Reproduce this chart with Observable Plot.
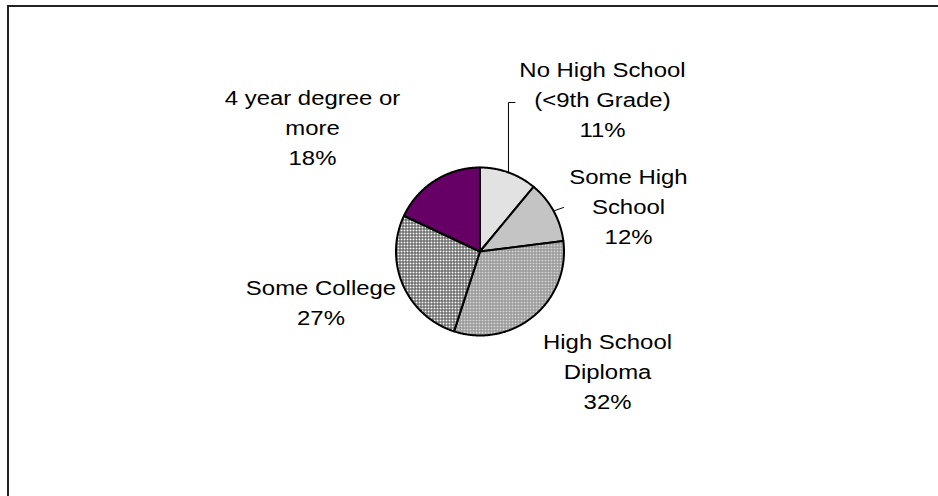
<!DOCTYPE html>
<html><head><meta charset="utf-8">
<script src="https://cdn.jsdelivr.net/npm/d3@7"></script>
<script src="https://cdn.jsdelivr.net/npm/@observablehq/plot@0.6"></script>
<style>
body{margin:0;background:#fff}
#wrap{position:relative;width:938px;height:496px;overflow:hidden}
#frame{position:absolute;left:7px;top:5px;width:1000px;height:1000px;border-top:2px solid #222;border-left:2px solid #222;pointer-events:none}
</style>
</head><body><div id="wrap"><div id="frame"></div></div>
<script>
// ---- data ----
const categories = ["No High School\n(<9th Grade)", "Some High\nSchool", "High School\nDiploma", "Some College", "4 year degree or\nmore"];
const shares = [11, 12, 32, 27, 18];
const fills = ["url(#pNoHS)", "url(#pSomeHS)", "url(#pHSD)", "url(#pColl)", "#660066"];

// ---- layout (pie radius = 1 unit) ----
const W = 938, H = 496, CX = 479.5, CY = 251, R = 84;
const labelPos = [[1.458, 1.83], [1.768, 0.565], [1.518, -1.40], [-1.893, -0.585], [-1.994, 1.50]];
const leaderEnds = [[[null, 1.774], [0.417, 1.774]], [[0.994, 0.524]], [], [], []];

const pie = d3.pie().sort(null).startAngle(0).endAngle(2 * Math.PI).value(d => d)(shares);
const slicePts = [];
pie.forEach((p, i) => {
  slicePts.push({k: categories[i], x: 0, y: 0});
  const n = Math.max(2, Math.ceil((p.endAngle - p.startAngle) / 0.01));
  for (let j = 0; j <= n; j++) {
    const a = p.startAngle + (p.endAngle - p.startAngle) * j / n;
    slicePts.push({k: categories[i], x: Math.sin(a), y: Math.cos(a)});
  }
});
const labels = categories.map((c, i) => ({text: c + "\n" + shares[i] + "%", x: labelPos[i][0], y: labelPos[i][1]}));
const leaders = [];
pie.forEach((p, i) => {
  if (!leaderEnds[i].length) return;
  const a = (p.startAngle + p.endAngle) / 2;
  let px = Math.sin(a), py = Math.cos(a);
  leaders.push({k: i, x: px, y: py});
  leaderEnds[i].forEach(([ex, ey]) => {
    px = ex == null ? px : ex; py = ey == null ? py : ey;
    leaders.push({k: i, x: px, y: py});
  });
});

const chart = Plot.plot({
  width: W, height: H, margin: 0,
  x: {domain: [-CX / R, (W - CX) / R], axis: null},
  y: {domain: [-(H - CY) / R, CY / R], axis: null},
  color: {type: "ordinal", domain: categories, range: fills},
  marks: [
    Plot.line(slicePts, {x: "x", y: "y", z: "k", fill: "k", stroke: "#000", strokeWidth: 2, curve: "linear-closed", strokeLinejoin: "round"}),
    Plot.line(leaders, {x: "x", y: "y", z: "k", stroke: "#000", strokeWidth: 1}),
    Plot.text(labels, {x: "x", y: "y", text: "text", fontSize: 21, lineHeight: 1.43, fill: "#000", fontFamily: "Liberation Sans, Arial, sans-serif", lineAnchor: "middle", textAnchor: "middle"})
  ]
});
chart.style.background = "transparent";
const ns = "http://www.w3.org/2000/svg";
const defs = document.createElementNS(ns, "defs");
function pat(id, size, bg, rects) {
  const p = document.createElementNS(ns, "pattern");
  p.setAttribute("id", id); p.setAttribute("patternUnits", "userSpaceOnUse");
  p.setAttribute("width", size); p.setAttribute("height", size);
  const b = document.createElementNS(ns, "rect");
  b.setAttribute("width", size); b.setAttribute("height", size); b.setAttribute("fill", bg);
  p.appendChild(b);
  rects.forEach(([x, y, w, h, f]) => {
    const r = document.createElementNS(ns, "rect");
    r.setAttribute("x", x); r.setAttribute("y", y); r.setAttribute("width", w); r.setAttribute("height", h); r.setAttribute("fill", f);
    p.appendChild(r);
  });
  defs.appendChild(p);
}
pat("pNoHS", 2, "#f6f6f6", [[0, 0, 1, 1, "#c0c0c0"], [1, 1, 1, 1, "#dadada"]]);
pat("pSomeHS", 2, "#e2e2e2", [[0, 0, 1, 1, "#969696"], [1, 1, 1, 1, "#b4b4b4"]]);
pat("pHSD", 3, "#d6d6d6", [[0, 0, 3, 1, "#8a8a8a"], [0, 0, 1, 3, "#8a8a8a"]]);
pat("pColl", 3, "#ffffff", [[0, 0, 3, 1, "#4a4a4a"], [0, 0, 1, 3, "#4a4a4a"]]);
chart.insertBefore(defs, chart.firstChild);
chart.querySelectorAll('g[aria-label="text"] text').forEach(t => {
  t.setAttribute("transform", (t.getAttribute("transform") || "") + " scale(1.14,1)");
});
document.getElementById("wrap").insertBefore(chart, document.getElementById("frame"));
</script>
</body></html>
